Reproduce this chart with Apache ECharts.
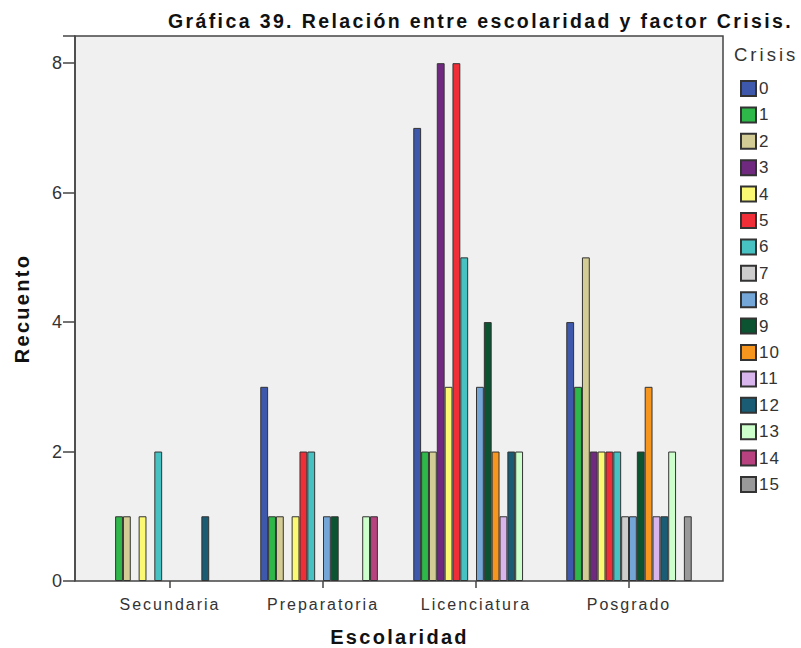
<!DOCTYPE html>
<html>
<head>
<meta charset="utf-8">
<script src="https://cdn.jsdelivr.net/npm/echarts@6/dist/echarts.min.js"></script>
<style>
  html, body { margin: 0; padding: 0; background: #ffffff; }
  #chart { width: 801px; height: 648px; }
  /* widen the tracking of the chart texts, keyed by their font size */
  #chart text[style*="19.5px"] { letter-spacing: 2.38px; }
  #chart text[style*="18.5px"] { letter-spacing: 3px; }
  #chart text[style*="20px"]   { letter-spacing: 2.3px; }
  #chart text[style*="16px"]   { letter-spacing: 2px; }
  #chart text[style*="17px"]   { letter-spacing: 1px; }
</style>
</head>
<body>
<div id="chart"></div>
<script>
// Education levels on the x axis
const categories = ['Secundaria', 'Preparatoria', 'Licenciatura', 'Posgrado'];

// Crisis factor values (one series per value)
const crisisLevels = ['0','1','2','3','4','5','6','7','8','9','10','11','12','13','14','15'];

// Counts per education level, indexed by crisis value 0..15
const secundaria   = [0, 1, 1, 0, 1, 0, 2, 0, 0, 0, 0, 0, 1, 0, 0, 0];
const preparatoria = [3, 1, 1, 0, 1, 2, 2, 0, 1, 1, 0, 0, 0, 1, 1, 0];
const licenciatura = [7, 2, 2, 8, 3, 8, 5, 0, 3, 4, 2, 1, 2, 2, 0, 0];
const posgrado     = [4, 3, 5, 2, 2, 2, 2, 1, 1, 2, 3, 1, 1, 2, 0, 1];

const yTicks = [0, 2, 4, 6, 8];

const palette = [
  '#3e58ac', '#2fb84a', '#d3cc95', '#6f2a7f', '#fbf874', '#ef2e38',
  '#47c1c1', '#cdcdcd', '#74a6d8', '#0c5431', '#f6961f', '#d9b5ed',
  '#1a5c74', '#ccffcc', '#b8417f', '#999999'
];

const byLevel = [secundaria, preparatoria, licenciatura, posgrado];

const series = crisisLevels.map((name, i) => ({
  name: name,
  type: 'bar',
  xAxisIndex: 1,
  yAxisIndex: 1,
  barGap: '0%',
  barCategoryGap: '18%',
  itemStyle: { color: palette[i], borderColor: '#333333', borderWidth: 1 },
  emphasis: { disabled: true },
  data: byLevel.map(level => (level[i] === 0 ? '-' : level[i]))
}));

const yMax = 8.42;
const fontFam = 'Liberation Sans, Arial, sans-serif';

const chart = echarts.init(document.getElementById('chart'), null, { renderer: 'svg' });
chart.setOption({
  animation: false,
  backgroundColor: '#ffffff',
  textStyle: { fontFamily: fontFam },
  title: [
    {
      text: 'Gráfica 39. Relación entre escolaridad y factor Crisis.',
      left: 163, top: 6,
      textStyle: { fontSize: 19.5, fontWeight: 'bold', color: '#111', fontFamily: fontFam }
    },
    {
      text: 'Crisis',
      left: 729, top: 40,
      textStyle: { fontSize: 18.5, fontWeight: 'normal', color: '#333', fontFamily: fontFam }
    }
  ],
  legend: {
    orient: 'vertical',
    left: 735, top: 75,
    itemWidth: 15, itemHeight: 15, itemGap: 9.4,
    icon: 'rect',
    selectedMode: false,
    data: crisisLevels,
    textStyle: { fontSize: 17, color: '#333', padding: [0, 0, 0, -2], fontFamily: fontFam }
  },
  grid: [
    {
      left: 75, top: 36, width: 648, height: 545, outerBoundsMode: 'none',
      show: true, backgroundColor: '#f0f0f0', borderColor: '#444', borderWidth: 1.5
    },
    {
      left: 93.5, top: 36, width: 612, height: 545, outerBoundsMode: 'none'
    }
  ],
  xAxis: [
    { type: 'value', gridIndex: 0, show: false, min: 0, max: 1 },
    {
      type: 'category', gridIndex: 1, data: categories,
      name: 'Escolaridad', nameLocation: 'middle', nameGap: 46,
      nameTextStyle: { fontSize: 20, fontWeight: 'bold', color: '#111', fontFamily: fontFam },
      axisLine: { show: false },
      axisTick: { show: true, alignWithLabel: true, length: 7, lineStyle: { color: '#444', width: 1.5 } },
      axisLabel: { fontSize: 16, color: '#333', margin: 15, fontFamily: fontFam }
    }
  ],
  yAxis: [
    {
      type: 'value', gridIndex: 0, min: 0, max: yMax, interval: 2,
      name: 'Recuento', nameLocation: 'middle', nameGap: 43, nameRotate: 90,
      nameTextStyle: { fontSize: 20, fontWeight: 'bold', color: '#111', fontFamily: fontFam },
      axisLine: { show: true, lineStyle: { color: '#444', width: 1.5 } },
      axisTick: { show: true, length: 12, lineStyle: { color: '#444', width: 1.5 } },
      splitLine: { show: false },
      axisLabel: {
        fontSize: 18, color: '#333', margin: 13, fontFamily: fontFam,
        formatter: v => (yTicks.indexOf(v) >= 0 ? String(v) : '')
      }
    },
    { type: 'value', gridIndex: 1, min: 0, max: yMax, show: false, splitLine: { show: false } }
  ],
  series: series
});
</script>
</body>
</html>
